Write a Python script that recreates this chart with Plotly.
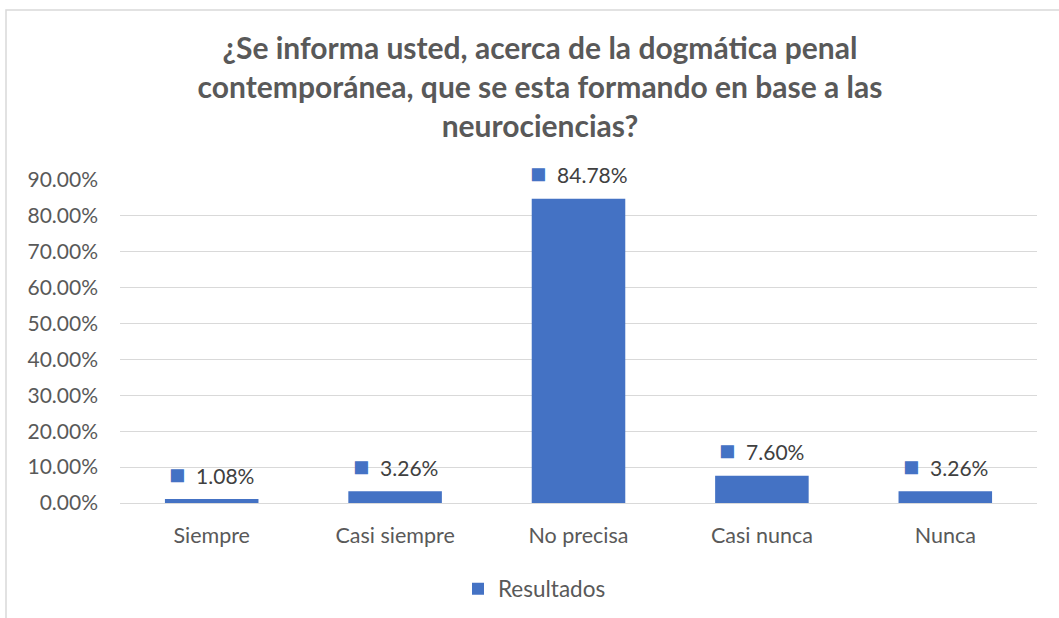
import plotly.graph_objects as go

categories = ["Siempre", "Casi siempre", "No precisa", "Casi nunca", "Nunca"]
values = [1.08, 3.26, 84.78, 7.60, 3.26]
tick_vals = [0, 10, 20, 30, 40, 50, 60, 70, 80, 90]
tick_text = [f"{v:.2f}%" for v in tick_vals]
series_name = "Resultados"
title_text = ("¿Se informa usted, acerca de la dogmática penal<br>"
              "contemporánea, que se esta formando en base a las<br>"
              "neurociencias?")

W, H = 1059, 618
L, R, T, B = 120, 22, 180, 115
pw, ph = W - L - R, H - T - B

def px2x(px):
    return (px - L) / pw

def py2y(py):
    return (H - B - py) / ph

BLUE = "#4472C4"

fig = go.Figure()
fig.add_trace(go.Bar(
    x=categories, y=values, name=series_name,
    marker=dict(color=BLUE, line=dict(width=0)),
    showlegend=True,
))

annotations = []
for c, v in zip(categories, values):
    annotations.append(dict(
        x=c, y=v, xref="x", yref="y",
        text=f"<span style='color:{BLUE};font-size:27px'>■</span>  {v:.2f}%",
        showarrow=False, yanchor="middle", xanchor="center", yshift=26,
        font=dict(family="Lato", size=21, color="#404040"),
    ))

fig.update_layout(
    width=W, height=H,
    margin=dict(l=L, r=R, t=T, b=B),
    paper_bgcolor="white", plot_bgcolor="white",
    font=dict(family="Lato", color="#595959"),
    bargap=0.49,
    title=dict(text=f"<b>{title_text}</b>", x=px2x(540), xref="paper", xanchor="center",
               y=1 - 59 / H, yanchor="top",
               font=dict(family="Lato", size=30, color="#595959")),
    xaxis=dict(showgrid=False, showline=False, ticks="",
               tickfont=dict(size=21.5, color="#595959"), ticklabelstandoff=17),
    yaxis=dict(range=[0, 90], tickvals=tick_vals, ticktext=tick_text,
               showgrid=True, gridcolor="#D9D9D9", gridwidth=1,
               zeroline=True, zerolinecolor="#D9D9D9", zerolinewidth=1,
               showline=False, ticks="",
               tickfont=dict(size=21, color="#595959"), ticklabelstandoff=21),
    legend=dict(orientation="h", xref="container", x=458 / W, xanchor="left",
                yref="container", y=(H - 589) / H, yanchor="middle",
                font=dict(size=22.5, color="#595959"), itemwidth=30),
    annotations=annotations,
    shapes=[dict(type="rect", xref="paper", yref="paper",
                 x0=px2x(6), x1=px2x(1075), y0=py2y(635), y1=py2y(10),
                 line=dict(color="#D9D9D9", width=1.5), layer="below")],
)

fig.write_html("out.html", config={"displayModeBar": False},
               post_script="document.body.style.margin='0';")
